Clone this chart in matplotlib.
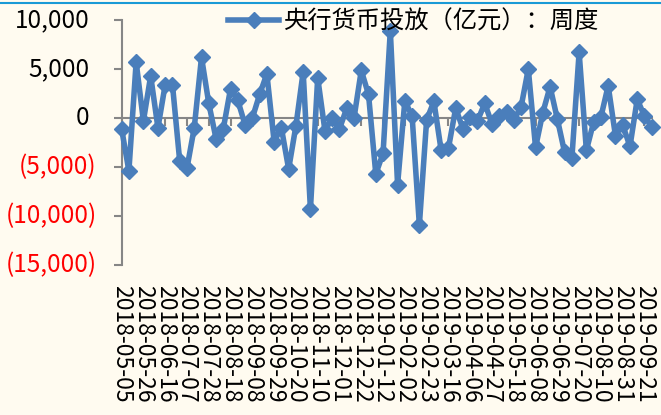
import numpy as np
import matplotlib.pyplot as plt
from matplotlib.lines import Line2D

plt.rcParams['font.family'] = ['Noto Sans CJK SC', 'DejaVu Sans']

# weekly net injection by the central bank, 100 million yuan (2018-05-05 .. 2019-09-28)
injection = [
    -1100, -5400, 5700, -300, 4300, -1000, 3400, 3400, -4400, -5100,
    -1000, 6200, 1500, -2100, -1100, 3000, 1800, -700, 0, 2400,
    4500, -2400, -1000, -5200, -800, 4700, -9300, 4100, -1300, 0,
    -1100, 1000, 0, 4850, 2400, -5700, -3600, 8900, -6800, 1750,
    200, -10900, -200, 1700, -3300, -3100, 1000, -1100, 100, -300,
    1500, -600, 200, 650, -200, 1100, 5000, -3000, 550, 3200,
    -100, -3500, -4100, 6700, -3300, -400, 100, 3300, -1800, -700,
    -2900, 1900, 200, -900,
]

tick_labels = [
    '2018-05-05', '2018-05-26', '2018-06-16', '2018-07-07', '2018-07-28',
    '2018-08-18', '2018-09-08', '2018-09-29', '2018-10-20', '2018-11-10',
    '2018-12-01', '2018-12-22', '2019-01-12', '2019-02-02', '2019-02-23',
    '2019-03-16', '2019-04-06', '2019-04-27', '2019-05-18', '2019-06-08',
    '2019-06-29', '2019-07-20', '2019-08-10', '2019-08-31', '2019-09-21',
]
y_ticks = [10000, 5000, 0, -5000, -10000, -15000]

LINE_BLUE = '#4a7ebb'
AXIS_GREY = '#868686'
BG = '#fffbf0'
FS = 17.5
FS_DATE = 16.5

fig = plt.figure(figsize=(6.61, 4.15), dpi=100, facecolor=BG)
ax = fig.add_axes([0.184, 0.361, 0.802, 0.591])
ax.set_facecolor(BG)

x = np.arange(len(injection))
ax.plot(x, injection, color=LINE_BLUE, lw=4, marker='D', ms=8.5,
        label='央行货币投放（亿元）：周度', clip_on=False, zorder=3)

ax.set_xlim(0, len(injection) - 1)
ax.set_ylim(-15000, 10000)

# spines: y axis on the left, x axis drawn through zero
for side in ['top', 'right']:
    ax.spines[side].set_visible(False)
ax.spines['left'].set_color(AXIS_GREY)
ax.spines['left'].set_linewidth(1.5)
ax.spines['bottom'].set_position(('data', 0))
ax.spines['bottom'].set_color(AXIS_GREY)
ax.spines['bottom'].set_linewidth(1.5)

ax.set_yticks(y_ticks)
ax.set_xticks(x[::3])
ax.tick_params(axis='both', direction='out', length=6, width=1.5,
               color=AXIS_GREY, labelleft=False, labelbottom=False)

# y labels: negatives in red with parentheses
for v in y_ticks:
    if v < 0:
        ax.text(-0.047, v, '({:,})'.format(-v), transform=ax.get_yaxis_transform(),
                ha='right', va='center', fontsize=FS, color='#ff0000')
    else:
        ax.text(-0.060, v, '{:,}'.format(v), transform=ax.get_yaxis_transform(),
                ha='right', va='center', fontsize=FS, color='black')

# date labels sit below the plot area, rotated
for pos, lab in zip(x[::3], tick_labels):
    ax.text(pos, -0.082, lab, transform=ax.get_xaxis_transform(), rotation=270,
            ha='center', va='top', fontsize=FS_DATE, color='black')

ax.legend(loc='center left', bbox_to_anchor=(228 / 661, 1 - 22 / 415),
          bbox_transform=fig.transFigure, frameon=False, fontsize=FS,
          handlelength=2.1, handletextpad=0.2, borderpad=0, borderaxespad=0)

fig.add_artist(Line2D([0, 1], [1 - 3.5 / 415] * 2, transform=fig.transFigure,
                      color='#1a9ad6', lw=1.5))

fig.savefig('out.png', dpi=100, facecolor=BG)
